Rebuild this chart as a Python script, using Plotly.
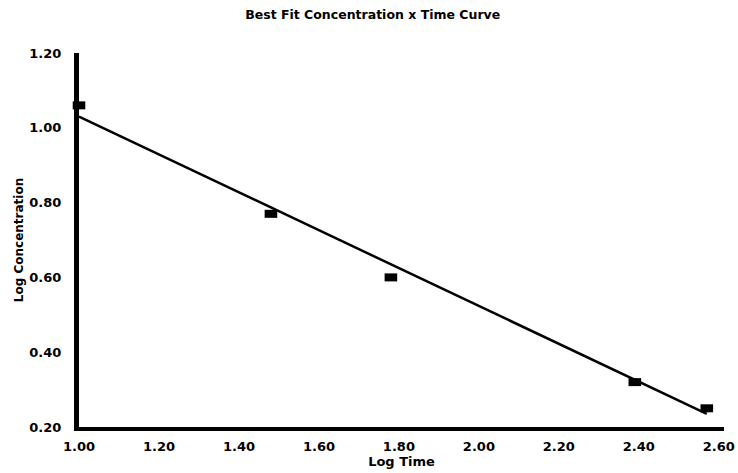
import plotly.graph_objects as go

log_time = [1.00, 1.48, 1.78, 2.39, 2.57]
log_conc = [1.06, 0.77, 0.60, 0.32, 0.25]

# Best fit line endpoints
fit_x = [1.00, 2.57]
fit_y = [1.03, 0.235]

x_ticks = [1.00, 1.20, 1.40, 1.60, 1.80, 2.00, 2.20, 2.40, 2.60]
y_ticks = [0.20, 0.40, 0.60, 0.80, 1.00, 1.20]

FONT = "DejaVu Sans, Liberation Sans, Arial, sans-serif"

fig = go.Figure()
fig.add_trace(go.Scatter(
    x=fit_x, y=fit_y, mode="lines",
    line=dict(color="black", width=2.5),
    showlegend=False, hoverinfo="skip", cliponaxis=False,
))
fig.add_trace(go.Scatter(
    x=log_time, y=log_conc, mode="markers",
    marker=dict(symbol="line-ew", size=9,
                line=dict(color="black", width=8)),
    showlegend=False, cliponaxis=False,
))

fig.update_layout(
    width=738, height=473,
    margin=dict(l=79, r=14, t=53, b=46, autoexpand=False),
    paper_bgcolor="white", plot_bgcolor="white",
    title=dict(text="Best Fit Concentration x Time Curve",
               x=0.505, xanchor="center", xref="container",
               y=0.978, yanchor="top", yref="container",
               font=dict(family=FONT, size=12.5, color="black", weight="bold")),
    font=dict(family=FONT, color="black"),
)
fig.update_xaxes(
    range=[1.0, 2.613], tickvals=x_ticks, tickformat=".2f",
    showgrid=False, zeroline=False, automargin=False,
    showline=True, linecolor="black", linewidth=3.5,
    ticks="outside", ticklen=5, tickcolor="rgba(0,0,0,0)",
    tickfont=dict(family=FONT, size=13, color="black", weight="bold"),
    title=dict(text="Log Time", standoff=4,
               font=dict(family=FONT, size=13, color="black", weight="bold")),
)
fig.update_yaxes(
    range=[0.20, 1.20], tickvals=y_ticks, tickformat=".2f",
    showgrid=False, zeroline=False, automargin=False,
    showline=True, linecolor="black", linewidth=5,
    ticks="outside", ticklen=10, tickcolor="rgba(0,0,0,0)",
    tickfont=dict(family=FONT, size=13, color="black", weight="bold"),
    title=dict(text="Log Concentration", standoff=5,
               font=dict(family=FONT, size=12, color="black", weight="bold")),
)

fig.write_html(
    "out.html",
    config={"displayModeBar": False},
    post_script="document.body.style.margin='0';document.body.style.overflow='hidden';",
)
